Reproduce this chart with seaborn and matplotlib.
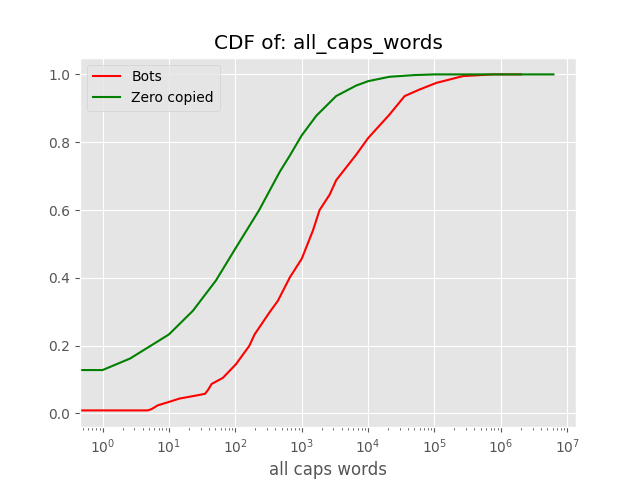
import matplotlib
matplotlib.use("Agg")
import matplotlib.pyplot as plt
import seaborn as sns

# CDF points (x = number of all caps words)
bots_x = [0, 1, 4.8, 5.5, 6.8, 10, 14.5, 26, 35, 39, 44, 65, 102, 162, 195,
          327, 437, 661, 1000, 1480, 1860, 2630, 3310, 6610, 10000,
          20900, 35500, 58900, 107000, 269000, 759000, 2000000]
bots_cdf = [0.009, 0.009, 0.009, 0.013, 0.024, 0.034, 0.044, 0.053, 0.058, 0.07,
            0.087, 0.105, 0.145, 0.199, 0.233, 0.298, 0.332, 0.401, 0.456, 0.54,
            0.6, 0.645, 0.688, 0.763, 0.812, 0.881, 0.936, 0.955, 0.975,
            0.995, 1.0, 1.0]

zero_x = [0, 1, 2.6, 10, 23, 51, 100, 229, 468, 660, 870, 1000, 1660, 3300,
          6600, 10000, 21000, 50000, 100000, 1000000, 6200000]
zero_cdf = [0.128, 0.128, 0.162, 0.233, 0.303, 0.392, 0.486, 0.6, 0.713, 0.76,
            0.8, 0.82, 0.878, 0.936, 0.967, 0.98, 0.993, 0.998, 1.0, 1.0, 1.0]

plt.style.use("ggplot")
fig, ax = plt.subplots(figsize=(6.4, 4.8), dpi=100)

sns.lineplot(x=bots_x, y=bots_cdf, color="red", label="Bots",
             estimator=None, sort=False, ax=ax)
sns.lineplot(x=zero_x, y=zero_cdf, color="green", label="Zero copied",
             estimator=None, sort=False, ax=ax)

ax.set_xscale("log")
ax.set_title("CDF of: all_caps_words")
ax.set_xlabel("all caps words")
ax.legend(loc="upper left")

plt.savefig("out.png", dpi=100)
